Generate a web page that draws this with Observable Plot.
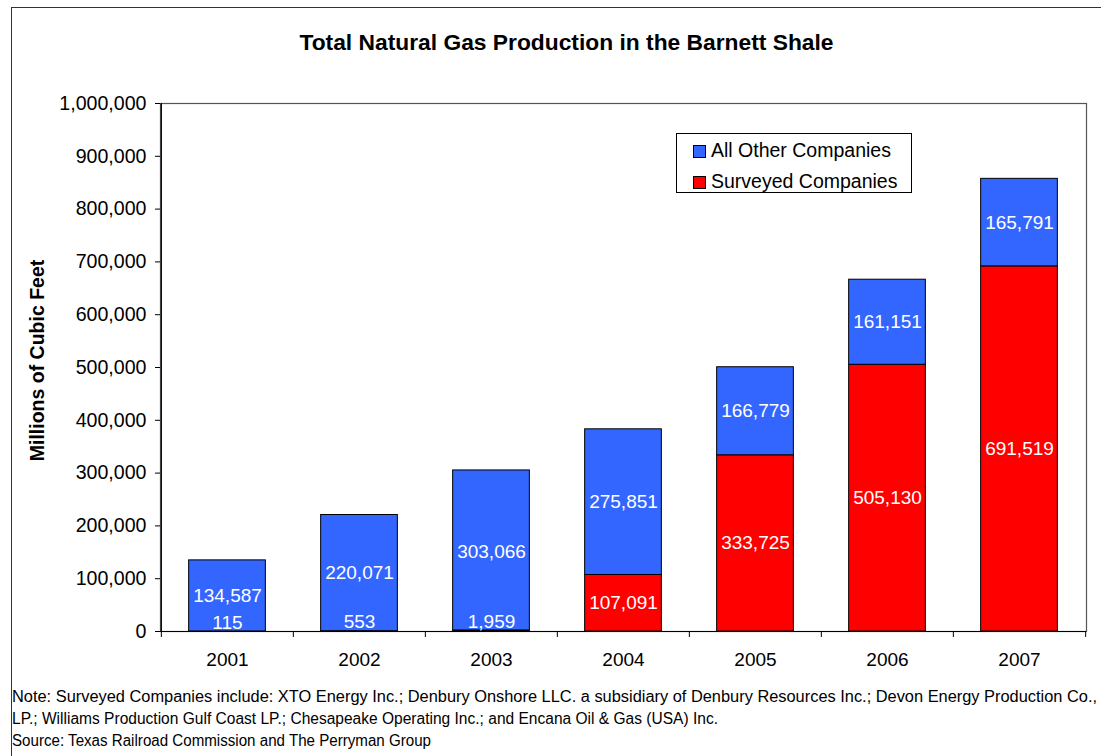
<!DOCTYPE html>
<html><head><meta charset="utf-8">
<script src="https://cdn.jsdelivr.net/npm/d3@7"></script>
<script src="https://cdn.jsdelivr.net/npm/@observablehq/plot@0.6"></script>
<style>
html,body{margin:0;padding:0;background:#fff;}
body{width:1101px;height:756px;position:relative;overflow:hidden;font-family:"Liberation Sans",Arial,sans-serif;color:#000;}
#frame{position:absolute;left:11px;top:7px;width:1200px;height:900px;border:1.5px solid #333;box-sizing:border-box;}
#title{position:absolute;left:0;width:1133px;top:29px;line-height:26px;text-align:center;font-weight:bold;font-size:22.8px;}
#chart svg{position:absolute;left:0;top:0;}
#legend{position:absolute;left:676px;top:133px;width:236px;height:60px;border:1px solid #000;box-sizing:border-box;background:#fff;}
.li{position:absolute;left:16px;height:24px;line-height:24px;font-size:19.5px;white-space:nowrap;}
.sw{display:inline-block;width:11px;height:11px;border:1px solid #000;margin-right:5px;vertical-align:-1px;}
#note{position:absolute;left:12px;top:686px;font-size:15.8px;line-height:22px;white-space:nowrap;}
#note div{transform-origin:0 50%;width:max-content;}
</style></head>
<body>
<div id="frame"></div>
<div id="title"></div>
<div id="chart"></div>
<div id="legend"></div>
<div id="note"></div>
<script>
const years = ["2001", "2002", "2003", "2004", "2005", "2006", "2007"];
const surveyed = [115, 553, 1959, 107091, 333725, 505130, 691519];
const others = [134587, 220071, 303066, 275851, 166779, 161151, 165791];
const seriesNames = ["Surveyed Companies", "All Other Companies"];
const seriesColors = ["#FF0000", "#3366FF"];
const yTicks = d3.range(0, 1000001, 100000);
const yLabel = "Millions of Cubic Feet";
const title = "Total Natural Gas Production in the Barnett Shale";
const noteLines = [
  "Note: Surveyed Companies include: XTO Energy Inc.; Denbury Onshore LLC. a subsidiary of Denbury Resources Inc.; Devon Energy Production Co.,",
  "LP.; Williams Production Gulf Coast LP.; Chesapeake Operating Inc.; and Encana Oil & Gas (USA) Inc.",
  "Source: Texas Railroad Commission and The Perryman Group"
];
const noteWidths = [1085, 706, 419];

const rows = [];
years.forEach((yr, i) => {
  rows.push({year: yr, series: seriesNames[0], value: surveyed[i]});
  rows.push({year: yr, series: seriesNames[1], value: others[i]});
});

const W = 1101, H = 756, mL = 160, mR = 15, mT = 103, mB = 125;
const bw = (W - mL - mR) / years.length;
const inset = bw * 0.209;
const fmt = d3.format(",");
const font = '"Liberation Sans", Arial, sans-serif';

const labelOpts = {x: "year", y: "value", z: "series", order: seriesNames,
  text: d => fmt(d.value), fill: "#fff", fontSize: 19};

const chart = Plot.plot({
  width: W, height: H,
  marginLeft: mL, marginRight: mR, marginTop: mT, marginBottom: mB,
  style: {fontFamily: font, fontSize: "19px", color: "#000", background: "transparent", overflow: "visible"},
  x: {domain: years, padding: 0, axis: null},
  y: {domain: [0, 1000000], axis: null},
  color: {domain: seriesNames, range: seriesColors},
  marks: [
    Plot.frame({stroke: "#555", strokeWidth: 1.2}),
    Plot.barY(rows, Plot.stackY({x: "year", y: "value", fill: "series", order: seriesNames,
      stroke: "#000", strokeWidth: 1, insetLeft: inset, insetRight: inset})),
    Plot.text(rows, Plot.stackY({...labelOpts, filter: d => d.value >= 10000})),
    Plot.text(rows, Plot.stackY({...labelOpts, filter: d => d.value < 10000, dy: -9})),
    Plot.ruleY([0], {stroke: "#000", strokeWidth: 1.2}),
    Plot.ruleX([years[0]], {dx: -bw / 2, stroke: "#000", strokeWidth: 1.2}),
    Plot.axisY({ticks: yTicks, tickFormat: fmt, tickSize: 5, tickPadding: 9, fontSize: 19.6, label: null}),
    Plot.axisX({ticks: years, tickSize: 0, tickPadding: 21, fontSize: 19, label: null}),
    Plot.axisX({ticks: years, tickSize: 6, tickFormat: () => "", dx: -bw / 2, label: null}),
    Plot.axisX({ticks: [years[years.length - 1]], tickSize: 6, tickFormat: () => "", dx: bw / 2, label: null}),
    Plot.text([yLabel], {frameAnchor: "left", textAnchor: "middle", dx: -123, dy: -7, rotate: -90, fontWeight: "bold", fontSize: 19.5})
  ]
});
document.getElementById("chart").appendChild(chart);

document.getElementById("title").textContent = title;

const legend = document.getElementById("legend");
[1, 0].forEach((k, j) => {
  const li = document.createElement("div");
  li.className = "li";
  li.style.top = (4 + j * 31) + "px";
  const sw = document.createElement("span");
  sw.className = "sw";
  sw.style.background = seriesColors[k];
  li.appendChild(sw);
  li.appendChild(document.createTextNode(seriesNames[k]));
  legend.appendChild(li);
});

const note = document.getElementById("note");
noteLines.forEach((t, i) => {
  const d = document.createElement("div");
  d.textContent = t;
  note.appendChild(d);
  const w = d.getBoundingClientRect().width;
  if (w > 0) d.style.transform = `scaleX(${noteWidths[i] / w})`;
});
</script>
</body></html>
